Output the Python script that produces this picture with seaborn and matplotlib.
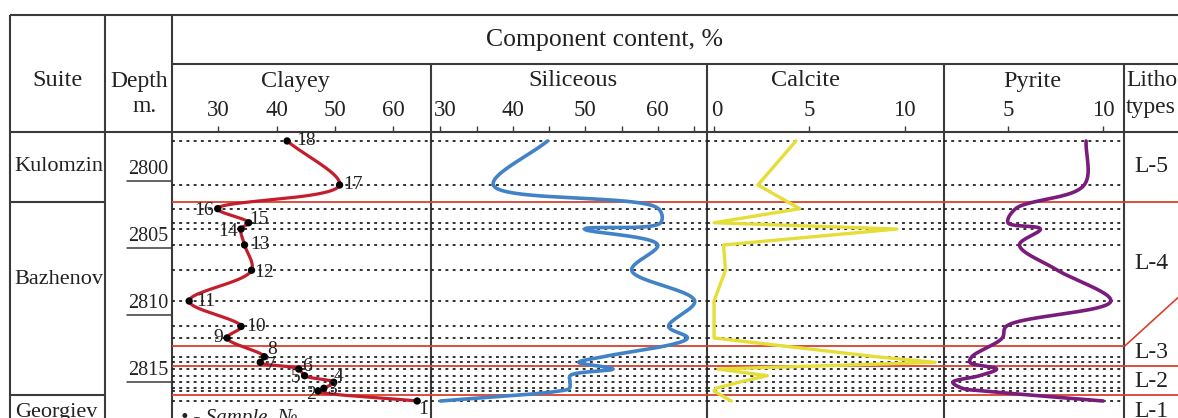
import numpy as np
import pandas as pd
import matplotlib
matplotlib.use("Agg")
import matplotlib.pyplot as plt
import matplotlib.transforms as mtransforms
import seaborn as sns

# ---------------- data ----------------
sample_no = list(range(1, 19))
depth = [2816.44, 2815.70, 2815.49, 2815.04, 2814.55, 2814.05, 2813.55, 2813.13, 2811.73,
         2810.87, 2808.97, 2806.67, 2804.78, 2803.59, 2803.12, 2802.07, 2800.30, 2797.01]
clayey = [64.1, 47.1, 48.1, 49.8, 44.8, 43.8, 37.2, 37.9, 31.5,
          33.9, 25.0, 35.7, 34.5, 33.9, 35.2, 29.9, 50.8, 41.8]
siliceous = [30.0, 46.3, 47.8, 47.9, 47.9, 53.8, 49.1, 52.5, 64.1,
             61.5, 65.1, 56.4, 60.0, 49.9, 60.4, 60.1, 37.3, 44.8]
calcite = [0.9, 0.0, 0.1, 1.3, 2.8, 0.2, 11.6, 8.5, 0.0,
           0.0, 0.0, 0.6, 0.5, 9.6, 0.0, 4.5, 2.3, 4.3]
pyrite = [10.0, 3.8, 2.6, 2.1, 3.5, 4.4, 3.0, 3.1, 4.7,
          4.9, 10.4, 7.6, 5.6, 6.7, 5.0, 5.4, 9.0, 9.1]

suites = ["Kulomzin", "Bazhenov", "Georgiev"]
suite_bounds = [2801.55, 2816.0]
litho_types = ["L-5", "L-4", "L-3", "L-2", "L-1"]
litho_bounds = [2801.55, 2812.31, 2813.83, 2816.0]
depth_ticks = [2800, 2805, 2810, 2815]

track_names = ["Clayey", "Siliceous", "Calcite", "Pyrite"]
clay_ticks = [30, 40, 50, 60]
sil_ticks = [30, 35, 40, 45, 50, 55, 60, 65]
sil_labels = ["30", "", "40", "", "50", "", "60", ""]
calc_ticks = [0, 5, 10]
pyr_ticks = [5, 10]

df = pd.DataFrame({"sample": sample_no, "depth": depth, "Clayey": clayey,
                   "Siliceous": siliceous, "Calcite": calcite, "Pyrite": pyrite})

# ---------------- style ----------------
sns.set_style("white")
plt.rcParams["font.family"] = ["Liberation Serif", "DejaVu Serif"]
plt.rcParams["text.color"] = "#222222"

W, H = 1178, 418
fig = plt.figure(figsize=(W / 100, H / 100), dpi=100)
LC = "#3a3a3a"
RED_LINE = "#d8412f"
YTOP, YBOT = 2796.34, 2817.71
PXM = 13.38  # px per metre

bg = fig.add_axes([0, 0, 1, 1])
bg.set_xlim(0, W)
bg.set_ylim(H, 0)
bg.axis("off")
bg.set_zorder(0)


def frame(x0, y0, x1, y1):
    bg.plot([x0, x1], [y0, y1], color=LC, lw=1.5, solid_capstyle="butt")


frame(10, 15, W, 15)
frame(10, 15, 10, H)
frame(105, 15, 105, H)
frame(172, 15, 172, H)
frame(172, 64, W, 64)
frame(10, 132, W, 132)
for xb in [431, 707, 944, 1124]:
    frame(xb, 64, xb, H)

bg.text(605, 40, "Component content, %", ha="center", va="center", fontsize=18.5)
bg.text(57, 81, "Suite", ha="center", va="center", fontsize=17.5)
bg.text(139, 81, "Depth", ha="center", va="center", fontsize=17)
bg.text(145, 107, "m.", ha="center", va="center", fontsize=17)
title_x = [295, 573, 805, 1032]
for name, tx in zip(track_names, title_x):
    bg.text(tx, 81, name, ha="center", va="center", fontsize=17.5)
bg.text(1126, 81, "Litho", ha="left", va="center", fontsize=17)
bg.text(1126, 107, "types", ha="left", va="center", fontsize=17)


def col_axes(x0, x1):
    a = fig.add_axes([x0 / W, 0, (x1 - x0) / W, (H - 132) / H])
    a.set_ylim(YBOT, YTOP)
    a.patch.set_alpha(0)
    return a


tracks = {
    "Clayey": (172, 431, (22.06, 66.48), clay_ticks, [str(t) for t in clay_ticks]),
    "Siliceous": (431, 707, (28.7, 66.8), sil_ticks, sil_labels),
    "Calcite": (707, 944, (-0.37, 12.07), calc_ticks, [str(t) for t in calc_ticks]),
    "Pyrite": (944, 1124, (1.64, 11.09), pyr_ticks, [str(t) for t in pyr_ticks]),
}
first_label_shift = {"Clayey": 0, "Siliceous": 5, "Calcite": 3, "Pyrite": 0}
axes = {}
for name, (x0, x1, xl, tk, tl) in tracks.items():
    a = col_axes(x0, x1)
    a.set_xlim(*xl)
    a.xaxis.tick_top()
    a.set_xticks(tk)
    a.set_xticklabels(tl)
    a.tick_params(axis="x", direction="out", length=4, width=1, colors=LC,
                  labelsize=16.5, labelcolor="#222222", pad=4)
    a.set_yticks([])
    for s in ["left", "right", "bottom", "top"]:
        a.spines[s].set_visible(False)
    sh = first_label_shift[name]
    if sh:
        lab = a.get_xticklabels()[0]
        lab.set_transform(lab.get_transform() +
                          mtransforms.ScaledTranslation(sh / 100, 0, fig.dpi_scale_trans))
    # sample dotted lines
    for d in depth:
        a.axhline(d, color="#222222", lw=1.3, ls=(0, (1.6, 2.4)), zorder=1)
    # red boundaries
    for b in litho_bounds:
        a.axhline(b, color=RED_LINE, lw=1.3, zorder=2)
    axes[name] = a


def smooth(vals, deps, xl, width, n=24, alpha=0.5):
    px = (np.asarray(vals) - xl[0]) / (xl[1] - xl[0]) * width
    py = (np.asarray(deps) - YTOP) * PXM
    P = np.column_stack([px, py])
    P = np.vstack([2 * P[0] - P[1], P, 2 * P[-1] - P[-2]])
    out = []
    for i in range(1, len(P) - 2):
        p0, p1, p2, p3 = P[i - 1], P[i], P[i + 1], P[i + 2]
        d01 = max(np.linalg.norm(p1 - p0), 1e-6) ** alpha
        d12 = max(np.linalg.norm(p2 - p1), 1e-6) ** alpha
        d23 = max(np.linalg.norm(p3 - p2), 1e-6) ** alpha
        t0, t1 = 0.0, d01
        t2 = t1 + d12
        t3 = t2 + d23
        t = np.linspace(t1, t2, n)[:, None]
        A1 = (t1 - t) / (t1 - t0) * p0 + (t - t0) / (t1 - t0) * p1
        A2 = (t2 - t) / (t2 - t1) * p1 + (t - t1) / (t2 - t1) * p2
        A3 = (t3 - t) / (t3 - t2) * p2 + (t - t2) / (t3 - t2) * p3
        B1 = (t2 - t) / (t2 - t0) * A1 + (t - t0) / (t2 - t0) * A2
        B2 = (t3 - t) / (t3 - t1) * A2 + (t - t1) / (t3 - t1) * A3
        C = (t2 - t) / (t2 - t1) * B1 + (t - t1) / (t2 - t1) * B2
        out.append(C if i == 1 else C[1:])
    C = np.vstack(out)
    xs = C[:, 0] / width * (xl[1] - xl[0]) + xl[0]
    ys = C[:, 1] / PXM + YTOP
    return xs, ys


curve_style = {"Clayey": ("#c41e2e", 2.3), "Siliceous": ("#4282c6", 2.6),
               "Pyrite": ("#7a1c7c", 2.6)}
for name, (col, lw) in curve_style.items():
    x0, x1, xl, _, _ = tracks[name]
    xs, ys = smooth(df[name], df["depth"], xl, x1 - x0)
    sns.lineplot(x=xs, y=ys, ax=axes[name], sort=False, estimator=None,
                 color=col, lw=lw, legend=False, zorder=4)

sns.lineplot(data=df, x="Calcite", y="depth", ax=axes["Calcite"], sort=False,
             estimator=None, color="#e6de38", lw=2.4, legend=False, zorder=4)

sns.scatterplot(data=df, x="Clayey", y="depth", ax=axes["Clayey"], color="black",
                s=28, edgecolor="none", zorder=5, legend=False)
label_off = {18: (19, 0), 17: (13, 0), 16: (-14, 2), 15: (10, -3), 14: (-13, 2),
             13: (15, 0), 12: (13, 2), 11: (17, 0), 10: (15, 0), 9: (-9, 0),
             8: (8, -7), 7: (10, 3), 6: (8, -3), 5: (-9, 2), 4: (5, -6),
             3: (8, 1), 2: (-7, 3), 1: (6, 8)}
for s, v, d in zip(df["sample"], df["Clayey"], df["depth"]):
    dx, dy = label_off[s]
    axes["Clayey"].annotate(str(s), (v, d), xytext=(dx * 0.72, -dy * 0.72),
                            textcoords="offset points", ha="center", va="center",
                            fontsize=14, zorder=6, annotation_clip=False)
for name in track_names:
    axes[name].set_xlabel("")
    axes[name].set_ylabel("")

# depth column
ad = col_axes(105, 172)
ad.set_xlim(0, 1)
ad.axis("off")
for dt in depth_ticks:
    ad.text(0.94, dt - 0.12, str(dt), ha="right", va="bottom", fontsize=14.5)
    ad.plot([0.33, 0.99], [dt, dt], color=LC, lw=1.1)

# suite column
asu = col_axes(10, 105)
asu.set_xlim(0, 1)
asu.axis("off")
for b in suite_bounds:
    asu.axhline(b, color=LC, lw=1.5)
suite_label_depth = [2798.9, 2807.35, 2817.65]
for name, d in zip(suites, suite_label_depth):
    va = "center" if name != "Georgiev" else "baseline"
    asu.text(0.05, d, name, ha="left", va=va, fontsize=16)

# lithotype column
al = col_axes(1124, W)
al.set_xlim(0, 1)
al.axis("off")
al.plot([0, 1], [litho_bounds[0]] * 2, color=RED_LINE, lw=1.3)
al.plot([0, 1], [litho_bounds[2]] * 2, color=RED_LINE, lw=1.3)
al.plot([0, 1], [litho_bounds[3]] * 2, color=RED_LINE, lw=1.3)
al.plot([0.02, 1], [litho_bounds[1], litho_bounds[1] - 3.6], color=RED_LINE, lw=1.2)
litho_label_depth = [2798.9, 2806.2, 2812.85, 2814.95, 2817.65]
for name, d in zip(litho_types, litho_label_depth):
    va = "center" if name != "L-1" else "baseline"
    al.text(0.2, d, name, ha="left", va=va, fontsize=17)

# legend note
bg.text(181, 423, "\u2022 - Sample, \u2116", ha="left", va="baseline",
        fontsize=15, style="italic", family=["Liberation Serif", "DejaVu Serif"])

fig.savefig("out.png", dpi=100)
